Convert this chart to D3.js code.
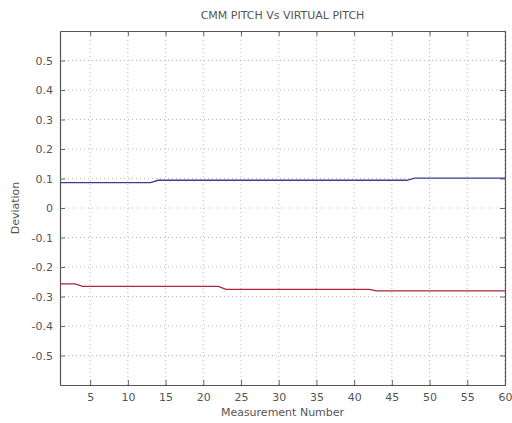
<!DOCTYPE html>
<html>
<head>
<meta charset="utf-8">
<script src="https://cdn.jsdelivr.net/npm/d3@7"></script>
<style>
  html, body { margin: 0; padding: 0; background: #fff; }
  svg { display: block; }
  text { font-family: "DejaVu Sans", sans-serif; fill: #555; }
</style>
</head>
<body>
<svg id="chart" width="512" height="423"></svg>
<script>
// Measurement numbers 1..60
const measurements = [
  1,2,3,4,5,6,7,8,9,10,11,12,13,14,15,16,17,18,19,20,
  21,22,23,24,25,26,27,28,29,30,31,32,33,34,35,36,37,38,39,40,
  41,42,43,44,45,46,47,48,49,50,51,52,53,54,55,56,57,58,59,60
];
// Deviation of CMM pitch
const cmmPitch = [
  0.086,0.086,0.086,0.086,0.086,0.086,0.086,0.086,0.086,0.086,
  0.086,0.086,0.086,0.094,0.094,0.094,0.094,0.094,0.094,0.094,
  0.094,0.094,0.094,0.094,0.094,0.094,0.094,0.094,0.094,0.094,
  0.094,0.094,0.094,0.094,0.094,0.094,0.094,0.094,0.094,0.094,
  0.094,0.094,0.094,0.094,0.094,0.094,0.094,0.101,0.101,0.101,
  0.101,0.101,0.101,0.101,0.101,0.101,0.101,0.101,0.101,0.101
];
// Deviation of virtual pitch
const virtualPitch = [
  -0.257,-0.257,-0.257,-0.266,-0.266,-0.266,-0.266,-0.266,-0.266,-0.266,
  -0.266,-0.266,-0.266,-0.266,-0.266,-0.266,-0.266,-0.266,-0.266,-0.266,
  -0.266,-0.266,-0.276,-0.276,-0.276,-0.276,-0.276,-0.276,-0.276,-0.276,
  -0.276,-0.276,-0.276,-0.276,-0.276,-0.276,-0.276,-0.276,-0.276,-0.276,
  -0.276,-0.276,-0.281,-0.281,-0.281,-0.281,-0.281,-0.281,-0.281,-0.281,
  -0.281,-0.281,-0.281,-0.281,-0.281,-0.281,-0.281,-0.281,-0.281,-0.281
];
const xTicks = [5,10,15,20,25,30,35,40,45,50,55,60];
const yTicks = [-0.5,-0.4,-0.3,-0.2,-0.1,0,0.1,0.2,0.3,0.4,0.5];
const yTickLabels = ["-0.5","-0.4","-0.3","-0.2","-0.1","0","0.1","0.2","0.3","0.4","0.5"];

const svg = d3.select("#chart");
const m = { left: 60, right: 7, top: 31, bottom: 38 };
const W = 512, H = 423;
const x = d3.scaleLinear().domain([1, 60]).range([m.left, W - m.right]);
const y = d3.scaleLinear().domain([-0.6, 0.6]).range([H - m.bottom, m.top]);

const g = svg.append("g");

// dotted grid
g.append("g").selectAll("line").data(xTicks).join("line")
  .attr("x1", d => x(d)).attr("x2", d => x(d))
  .attr("y1", y(-0.6)).attr("y2", y(0.6))
  .attr("stroke", "#bbb").attr("stroke-width", 1).attr("stroke-dasharray", "1,3");
g.append("g").selectAll("line").data(yTicks).join("line")
  .attr("y1", d => y(d)).attr("y2", d => y(d))
  .attr("x1", x(1)).attr("x2", x(60))
  .attr("stroke", "#bbb").attr("stroke-width", 1).attr("stroke-dasharray", "1,3");

// box axes with inward ticks
const fmt = d => yTickLabels[yTicks.indexOf(d)];
const axB = g.append("g").attr("transform", `translate(0,${y(-0.6)})`)
  .call(d3.axisBottom(x).tickValues(xTicks).tickSizeInner(-5).tickSizeOuter(0).tickPadding(8));
const axT = g.append("g").attr("transform", `translate(0,${y(0.6)})`)
  .call(d3.axisTop(x).tickValues(xTicks).tickSizeInner(-5).tickSizeOuter(0).tickFormat(""));
const axL = g.append("g").attr("transform", `translate(${x(1)},0)`)
  .call(d3.axisLeft(y).tickValues(yTicks).tickFormat(fmt).tickSizeInner(-5).tickSizeOuter(0).tickPadding(7));
const axR = g.append("g").attr("transform", `translate(${x(60)},0)`)
  .call(d3.axisRight(y).tickValues(yTicks).tickSizeInner(-5).tickSizeOuter(0).tickFormat(""));
[axB, axT, axL, axR].forEach(a => {
  a.select(".domain").attr("stroke", "#555").attr("stroke-width", 1.2);
  a.selectAll(".tick line").attr("stroke", "#666");
  a.selectAll("text").attr("font-size", 11).attr("fill", "#555")
    .attr("font-family", "DejaVu Sans, sans-serif");
});

// series lines
const line = vals => d3.line().x((d, i) => x(measurements[i])).y(d => y(d))(vals);
g.append("path").attr("d", line(cmmPitch))
  .attr("fill", "none").attr("stroke", "#3a3f8f").attr("stroke-width", 1.3);
g.append("path").attr("d", line(virtualPitch))
  .attr("fill", "none").attr("stroke", "#a8283a").attr("stroke-width", 1.3);

// title and axis labels
svg.append("text").attr("x", (x(1) + x(60)) / 2).attr("y", 19)
  .attr("text-anchor", "middle").attr("font-size", 11).text("CMM PITCH Vs VIRTUAL PITCH");
svg.append("text").attr("x", (x(1) + x(60)) / 2).attr("y", 416)
  .attr("text-anchor", "middle").attr("font-size", 11).text("Measurement Number");
svg.append("text").attr("transform", `translate(19,${y(0)}) rotate(-90)`)
  .attr("text-anchor", "middle").attr("font-size", 11).text("Deviation");
</script>
</body>
</html>
